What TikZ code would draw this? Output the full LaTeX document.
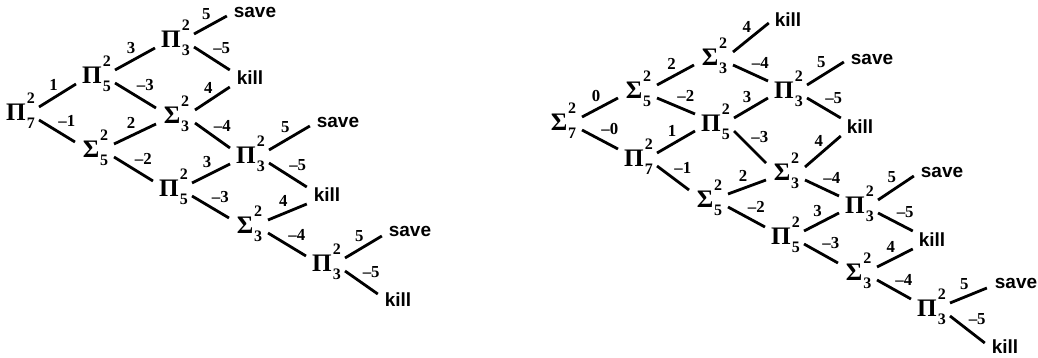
\documentclass[tikz,border=0pt]{standalone}
\usepackage{fontspec}
\setmainfont{Liberation Serif}
\newfontfamily\leafsans{Liberation Sans}
\usetikzlibrary{calc,positioning}
\newcommand\gkf{\bfseries\fontsize{12.6}{14}\selectfont}
\newcommand\scrf{\bfseries\fontsize{8}{9}\selectfont}
\newcommand\gk[3]{#1\rlap{\kern0.5pt\smash{\raisebox{8.4pt}{\scrf #2}}}\rlap{\kern0.5pt\smash{\raisebox{-4.2pt}{\scrf #3}}}}
\newcommand\eu[4]{\draw[edge] ($(#1)+(23,-5)$) -- node[ul]{#4} ($(#2)+(#3)$);}
\newcommand\ed[4]{\draw[edge] ($(#1)+(23,8)$) -- node[dl]{#4} ($(#2)+(#3)$);}
\begin{document}
\begin{tikzpicture}[x=0.5pt,y=-0.5pt,
  gnode/.style={inner sep=0pt,outer sep=0pt,font=\gkf},
  leaf/.style={inner sep=0pt,outer sep=0pt,font=\leafsans\bfseries\fontsize{9.5}{11}\selectfont},
  edge/.style={line width=1.4pt},
  lbl/.style={inner sep=0pt,font=\bfseries\fontsize{8.4}{9}\selectfont},
  ul/.style={lbl,midway,above=2pt,xshift=-2pt},
  dl/.style={lbl,midway,above right=1.5pt and 0pt}]
\useasboundingbox (0,0) rectangle (1038,358);
% ---------- left lattice ----------
\node[gnode] (LP7)  at (16,112)  {\gk{Π}{2}{7}};
\node[gnode] (LP5)  at (92,75)   {\gk{Π}{2}{5}};
\node[gnode] (LS5)  at (91,149)  {\gk{Σ}{2}{5}};
\node[gnode] (LP3a) at (171,39)  {\gk{Π}{2}{3}};
\node[gnode] (LS3a) at (172,115) {\gk{Σ}{2}{3}};
\node[gnode] (LP5b) at (169,188) {\gk{Π}{2}{5}};
\node[gnode] (LP3b) at (246,155) {\gk{Π}{2}{3}};
\node[gnode] (LS3b) at (245,225) {\gk{Σ}{2}{3}};
\node[gnode] (LP3c) at (322,263) {\gk{Π}{2}{3}};
\node[leaf] (Lsave1) at (255,12)  {save};
\node[leaf] (Lkill1) at (250,78)  {kill};
\node[leaf] (Lsave2) at (338,122) {save};
\node[leaf] (Lkill2) at (327,195) {kill};
\node[leaf] (Lsave3) at (410,231) {save};
\node[leaf] (Lkill3) at (398,300) {kill};
\eu{LP7}{LP5}{-16,9}{1}
\ed{LP7}{LS5}{-16,-7}{–1}
\eu{LP5}{LP3a}{-16,9}{3}
\ed{LP5}{LS3a}{-16,-7}{–3}
\eu{LS5}{LS3a}{-16,9}{2}
\ed{LS5}{LP5b}{-16,-7}{–2}
\eu{LP3a}{Lsave1.west}{-7,4}{5}
\ed{LP3a}{Lkill1.west}{-7,-8}{–5}
\eu{LS3a}{Lkill1.west}{-7,9}{4}
\ed{LS3a}{LP3b}{-16,-7}{–4}
\eu{LP5b}{LP3b}{-16,9}{3}
\ed{LP5b}{LS3b}{-16,-7}{–3}
\eu{LP3b}{Lsave2.west}{-7,4}{5}
\ed{LP3b}{Lkill2.west}{-7,-8}{–5}
\eu{LS3b}{Lkill2.west}{-7,9}{4}
\ed{LS3b}{LP3c}{-16,-7}{–4}
\eu{LP3c}{Lsave3.west}{-7,5}{5}
\ed{LP3c}{Lkill3.west}{-7,-6}{–5}
% ---------- right lattice ----------
\node[gnode] (RS7)  at (559,122) {\gk{Σ}{2}{7}};
\node[gnode] (RS5)  at (634,90)  {\gk{Σ}{2}{5}};
\node[gnode] (RP7)  at (634,158) {\gk{Π}{2}{7}};
\node[gnode] (RS3a) at (710,57)  {\gk{Σ}{2}{3}};
\node[gnode] (RP5)  at (711,123) {\gk{Π}{2}{5}};
\node[gnode] (RS5b) at (705,199) {\gk{Σ}{2}{5}};
\node[gnode] (RP3a) at (784,90)  {\gk{Π}{2}{3}};
\node[gnode] (RS3b) at (782,172) {\gk{Σ}{2}{3}};
\node[gnode] (RP5b) at (781,236) {\gk{Π}{2}{5}};
\node[gnode] (RP3b) at (855,205) {\gk{Π}{2}{3}};
\node[gnode] (RS3c) at (854,272) {\gk{Σ}{2}{3}};
\node[gnode] (RP3c) at (927,308) {\gk{Π}{2}{3}};
\node[leaf] (Rkill1) at (788,20)   {kill};
\node[leaf] (Rsave1) at (872,59)   {save};
\node[leaf] (Rkill2) at (860,127)  {kill};
\node[leaf] (Rsave2) at (942,172)  {save};
\node[leaf] (Rkill3) at (932,240)  {kill};
\node[leaf] (Rsave3) at (1016,283) {save};
\node[leaf] (Rkill4) at (1005,347) {kill};
\eu{RS7}{RS5}{-16,8}{0}
\ed{RS7}{RP7}{-16,-9}{–0}
\eu{RS5}{RS3a}{-16,8}{2}
\ed{RS5}{RP5}{-16,-9}{–2}
\eu{RP7}{RP5}{-16,8}{1}
\ed{RP7}{RS5b}{-16,-9}{–1}
\eu{RS3a}{Rkill1.west}{-6,3}{4}
\ed{RS3a}{RP3a}{-16,-9}{–4}
\eu{RP5}{RP3a}{-16,8}{3}
\ed{RP5}{RS3b}{-16,-9}{–3}
\eu{RS5b}{RS3b}{-16,8}{2}
\ed{RS5b}{RP5b}{-16,-9}{–2}
\eu{RP3a}{Rsave1.west}{-7,3}{5}
\ed{RP3a}{Rkill2.west}{-6,-9}{–5}
\eu{RS3b}{Rkill2.west}{-6,9}{4}
\ed{RS3b}{RP3b}{-16,-9}{–4}
\eu{RP5b}{RP3b}{-16,8}{3}
\ed{RP5b}{RS3c}{-16,-9}{–3}
\eu{RP3b}{Rsave2.west}{-7,4}{5}
\ed{RP3b}{Rkill3.west}{-6,-9}{–5}
\eu{RS3c}{Rkill3.west}{-6,9}{4}
\ed{RS3c}{RP3c}{-16,-9}{–4}
\eu{RP3c}{Rsave3.west}{-8,5}{5}
\ed{RP3c}{Rkill4.west}{-7,-4}{–5}
\end{tikzpicture}
\end{document}
